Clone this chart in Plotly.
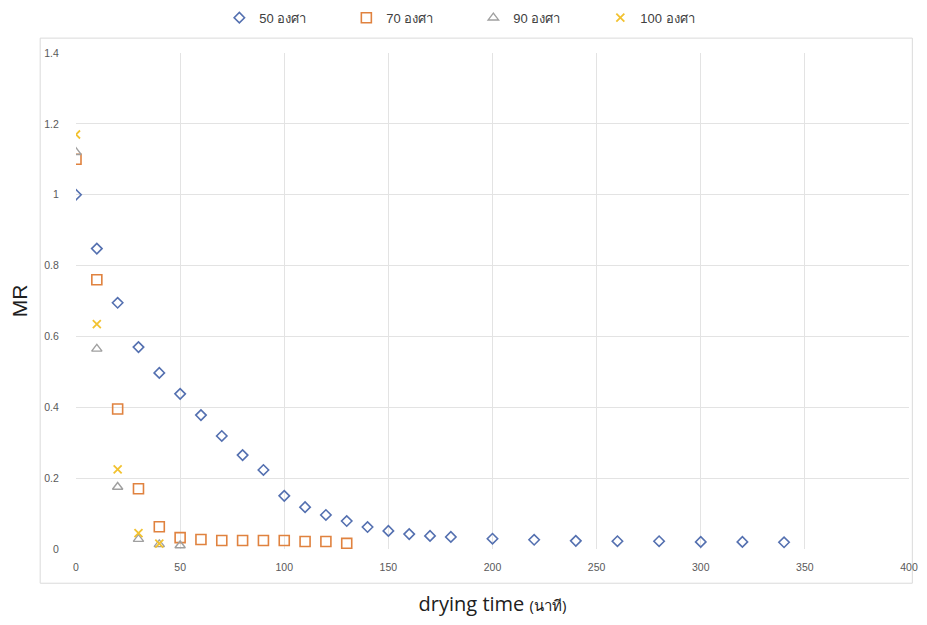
import plotly.graph_objects as go

# drying time (minutes) and MR values
t50 = [0, 10, 20, 30, 40, 50, 60, 70, 80, 90, 100, 110, 120, 130, 140, 150, 160, 170, 180,
       200, 220, 240, 260, 280, 300, 320, 340]
mr50 = [1.0, 0.848, 0.695, 0.570, 0.497, 0.438, 0.378, 0.319, 0.265, 0.223, 0.150, 0.118,
        0.096, 0.079, 0.062, 0.051, 0.042, 0.037, 0.034, 0.029, 0.026, 0.023, 0.022, 0.022,
        0.020, 0.020, 0.019]

t70 = [0, 10, 20, 30, 40, 50, 60, 70, 80, 90, 100, 110, 120, 130]
mr70 = [1.10, 0.760, 0.395, 0.170, 0.063, 0.032, 0.027, 0.024, 0.024, 0.024, 0.024,
        0.021, 0.021, 0.016]

t90 = [0, 10, 20, 30, 40, 50]
mr90 = [1.12, 0.565, 0.175, 0.028, 0.013, 0.010]

t100 = [0, 10, 20, 30, 40]
mr100 = [1.17, 0.635, 0.225, 0.045, 0.015]

names = ["50 องศา", "70 องศา", "90 องศา", "100 องศา"]
colors = ["#5470B0", "#E0823F", "#A0A0A0", "#F2C230"]

xticks = [0, 50, 100, 150, 200, 250, 300, 350, 400]
yticks = [0, 0.2, 0.4, 0.6, 0.8, 1, 1.2, 1.4]

fig = go.Figure()
fig.add_trace(go.Scatter(x=t50, y=mr50, mode="markers", name=names[0],
                         marker=dict(symbol="diamond-open", size=8, color=colors[0],
                                     line=dict(width=1.6))))
fig.add_trace(go.Scatter(x=t70, y=mr70, mode="markers", name=names[1],
                         marker=dict(symbol="square-open", size=10, color=colors[1],
                                     line=dict(width=1.6))))
fig.add_trace(go.Scatter(x=t90, y=mr90, mode="markers", name=names[2],
                         marker=dict(symbol="triangle-up-open", size=9, color=colors[2],
                                     line=dict(width=1.4))))
fig.add_trace(go.Scatter(x=t100, y=mr100, mode="markers", name=names[3],
                         marker=dict(symbol="x-thin-open", size=8, color=colors[3],
                                     line=dict(width=1.8, color=colors[3]))))

fig.update_layout(
    width=911, height=609,
    margin=dict(l=68, r=10, t=45, b=68, autoexpand=False),
    paper_bgcolor="white", plot_bgcolor="white",
    font=dict(family="Liberation Sans Narrow, Liberation Sans, sans-serif", color="#595959", size=10.5),
    showlegend=True,
    legend=dict(orientation="h", xref="container", yref="container",
                x=0.232, xanchor="left", y=0.984, yanchor="middle",
                font=dict(size=13, color="#404040"), itemwidth=30, entrywidth=82,
                traceorder="normal"),
    xaxis=dict(range=[0, 400], tickvals=xticks, ticktext=[str(v) for v in xticks],
               showgrid=True, gridcolor="#E3E3E3", gridwidth=1, zeroline=False,
               ticks="outside", ticklen=8, tickcolor="rgba(0,0,0,0)",
               showline=False, automargin=True,
               title=dict(text="drying time <span style='font-size:15px'>(นาที)</span>",
                          font=dict(family="Open Sans, Liberation Sans, sans-serif", size=20, color="#202020"),
                          standoff=26)),
    yaxis=dict(range=[0, 1.4], tickvals=yticks, ticktext=["0", "0.2", "0.4", "0.6", "0.8", "1", "1.2", "1.4"],
               showgrid=True, gridcolor="#E3E3E3", gridwidth=1, zeroline=False,
               ticks="outside", ticklen=14, tickcolor="rgba(0,0,0,0)",
               showline=False, automargin=False,
               title=dict(text="MR", font=dict(family="Liberation Sans, sans-serif", size=21, color="#202020"),
                          standoff=18)),
)

# chart frame
fig.add_shape(type="rect", xref="paper", yref="paper",
              x0=-0.043, x1=1.004, y0=-0.069, y1=1.03,
              line=dict(color="#DADADA", width=1), fillcolor="rgba(0,0,0,0)", layer="below")

fig.write_html("out.html")
